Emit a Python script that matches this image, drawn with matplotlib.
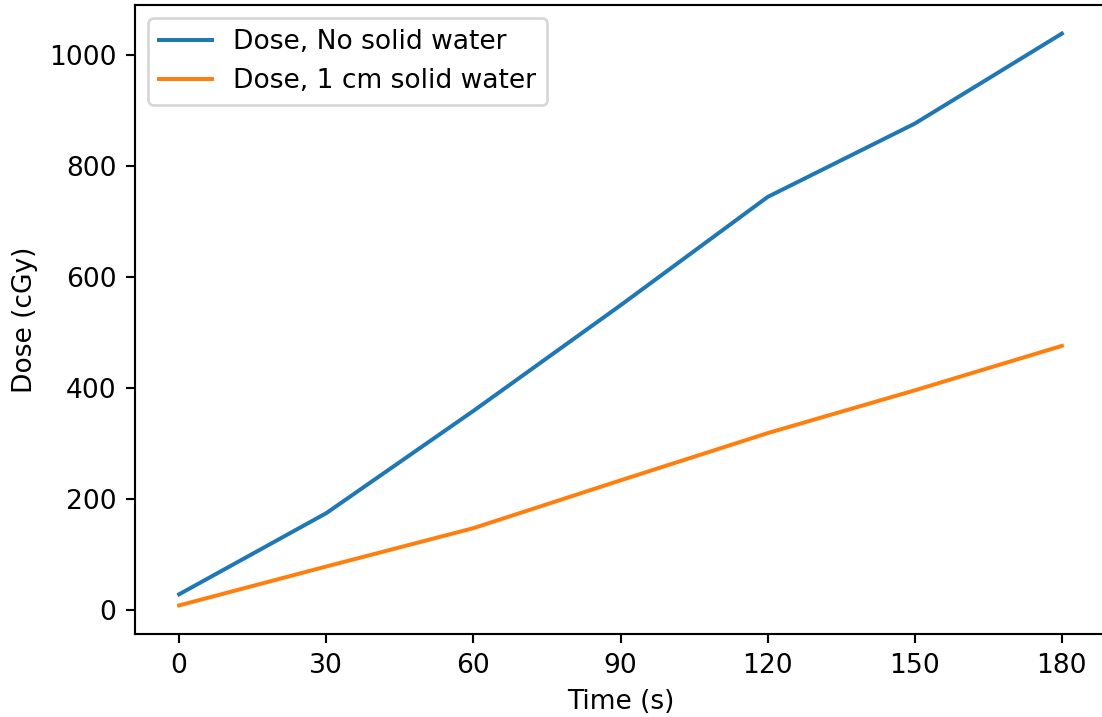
import matplotlib
matplotlib.use("Agg")
import matplotlib.pyplot as plt

# data
time_s = [0, 30, 60, 90, 120, 150, 180]
dose_no_water = [29, 175, 359, 549, 744, 876, 1038]
dose_1cm_water = [9, 79, 148, 234, 319, 396, 476]

dpi = 191
fig = plt.figure(figsize=(1102 / dpi, 717 / dpi), dpi=dpi)
ax = fig.add_axes([135 / 1102, (717 - 634) / 717, 971 / 1102, 629 / 717])

ax.plot(time_s, dose_no_water, label="Dose, No solid water")
ax.plot(time_s, dose_1cm_water, label="Dose, 1 cm solid water")

ax.set_xticks(time_s)
ax.set_xlabel("Time (s)")
ax.set_ylabel("Dose (cGy)")
ax.legend(loc="upper left")
# right edge of the axes falls off the canvas in the original
ax.spines["right"].set_visible(False)

fig.savefig("out.png", dpi=dpi)
